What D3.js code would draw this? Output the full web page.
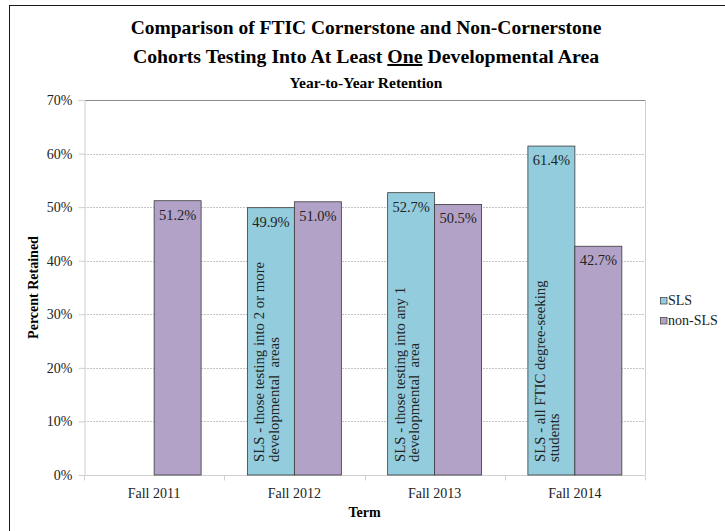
<!DOCTYPE html>
<html>
<head>
<meta charset="utf-8">
<script src="https://cdn.jsdelivr.net/npm/d3@7"></script>
<style>
  html, body { margin: 0; padding: 0; background: #fff; }
  svg text, svg tspan { font-family: "Liberation Serif", "Times New Roman", Times, serif !important; }
</style>
</head>
<body>
<svg id="chart" width="725" height="531"></svg>
<script>
const categories = ["Fall 2011", "Fall 2012", "Fall 2013", "Fall 2014"];
const seriesNames = ["SLS", "non-SLS"];
const slsValues = [null, 49.9, 52.7, 61.4];
const nonSlsValues = [51.2, 51.0, 50.5, 42.7];
const slsNotes = [
  null,
  ["SLS - those testing into 2 or more", "developmental  areas"],
  ["SLS - those testing into any 1", "developmental  area"],
  ["SLS - all FTIC degree-seeking", "students"]
];
const yTicks = [0, 10, 20, 30, 40, 50, 60, 70];
const colors = ["#93CDDD", "#B3A2C7"];

const FONT = "'Liberation Serif', 'Times New Roman', serif";
const svg = d3.select("#chart").attr("font-family", FONT);
const W = 725, H = 531;
const plot = { left: 84, right: 645, top: 100, bottom: 475 };

// outer border
svg.append("rect").attr("x", 9.5).attr("y", 5.5).attr("width", W).attr("height", H)
  .attr("fill", "none").attr("stroke", "#1a1a1a").attr("stroke-width", 1);

// titles
const cx = 366;
svg.append("text").attr("x", cx).attr("y", 34).attr("text-anchor", "middle")
  .attr("font-family", FONT).attr("font-weight", "bold").attr("font-size", 19.5)
  .text("Comparison of FTIC Cornerstone and Non-Cornerstone");
const t2 = svg.append("text").attr("x", cx).attr("y", 63).attr("text-anchor", "middle")
  .attr("font-family", FONT).attr("font-weight", "bold").attr("font-size", 19.8);
t2.append("tspan").text("Cohorts Testing Into At Least ");
t2.append("tspan").attr("text-decoration", "underline").text("One");
t2.append("tspan").text(" Developmental Area");
svg.append("text").attr("x", cx).attr("y", 88).attr("text-anchor", "middle")
  .attr("font-family", FONT).attr("font-weight", "bold").attr("font-size", 15.5)
  .text("Year-to-Year Retention");

// scales
const x0 = d3.scaleBand().domain(categories).range([plot.left, plot.right])
  .paddingInner(0.33).paddingOuter(0.165);
const x1 = d3.scaleBand().domain(seriesNames).range([0, x0.bandwidth()]);
const y = d3.scaleLinear().domain([0, 70]).range([plot.bottom, plot.top]);

// gridlines
svg.append("g").selectAll("line").data(yTicks.filter(d => d > 0 && d < 70)).join("line")
  .attr("x1", plot.left).attr("x2", plot.right)
  .attr("y1", d => Math.round(y(d)) + 0.5).attr("y2", d => Math.round(y(d)) + 0.5)
  .attr("stroke", "#c4c4c4").attr("stroke-dasharray", "2,1");
// plot border
svg.append("line").attr("x1", plot.left).attr("x2", plot.right)
  .attr("y1", y(70) + 0.5).attr("y2", y(70) + 0.5).attr("stroke", "#8c8c8c");
svg.append("line").attr("x1", plot.right + 0.5).attr("x2", plot.right + 0.5)
  .attr("y1", plot.top).attr("y2", plot.bottom).attr("stroke", "#d0d0d0");

// y axis
const yAxis = d3.axisLeft(y).tickValues(yTicks).tickFormat(d => d + "%").tickSizeOuter(0).tickSize(6).tickPadding(6);
const gy = svg.append("g").attr("transform", `translate(${plot.left + 0.5},0)`).call(yAxis)
  .attr("font-family", FONT).attr("font-size", 14);
gy.select(".domain").attr("stroke", "#d0d0d0");
gy.selectAll(".tick line").attr("stroke", "#d0d0d0");
gy.selectAll(".tick text").attr("font-family", FONT).attr("font-size", 14).attr("fill", "#222");

// x axis
const gx = svg.append("g").attr("transform", `translate(0,${plot.bottom + 0.5})`);
gx.append("line").attr("x1", plot.left).attr("x2", plot.right).attr("stroke", "#d0d0d0");
const step = x0.step();
const boundaries = categories.map((c, i) => x0(c) - x0.paddingOuter() * step).concat([plot.right]);
gx.selectAll("line.tk").data(boundaries).join("line").attr("class", "tk")
  .attr("x1", d => Math.round(d) + 0.5).attr("x2", d => Math.round(d) + 0.5)
  .attr("y1", 0).attr("y2", 5).attr("stroke", "#d0d0d0");
gx.selectAll("text").data(categories).join("text")
  .attr("x", d => x0(d) + x0.bandwidth() / 2).attr("y", 22)
  .attr("text-anchor", "middle").attr("font-family", FONT).attr("font-size", 14).attr("fill", "#222").text(d => d);

// axis titles
svg.append("text").attr("x", (plot.left + plot.right) / 2).attr("y", 517)
  .attr("text-anchor", "middle").attr("font-family", FONT).attr("font-weight", "bold").attr("font-size", 14).text("Term");
svg.append("text").attr("transform", `translate(38,${(plot.top + plot.bottom) / 2}) rotate(-90)`)
  .attr("text-anchor", "middle").attr("font-family", FONT).attr("font-weight", "bold").attr("font-size", 14).text("Percent Retained");

// bars
const rows = categories.map((c, i) => ({ cat: c, vals: [slsValues[i], nonSlsValues[i]], note: slsNotes[i] }));
const groups = svg.append("g").selectAll("g").data(rows).join("g")
  .attr("transform", d => `translate(${x0(d.cat)},0)`);

groups.each(function (d) {
  const g = d3.select(this);
  d.vals.forEach((v, si) => {
    if (v == null) return;
    const bx = x1(seriesNames[si]);
    g.append("rect").attr("x", bx).attr("y", y(v))
      .attr("width", x1.bandwidth()).attr("height", y(0) - y(v))
      .attr("fill", colors[si]).attr("stroke", "#3a3a3a").attr("stroke-width", 0.8);
    g.append("text").attr("x", bx + x1.bandwidth() / 2).attr("y", y(v) + 19)
      .attr("text-anchor", "middle").attr("font-family", FONT).attr("font-size", 14.5).attr("fill", "#222")
      .text(v.toFixed(1) + "%");
  });
  if (d.note) {
    const bx = x1("SLS");
    d.note.forEach((line, li) => {
      g.append("text")
        .attr("transform", `translate(${bx + 17 + li * 14.5},${plot.bottom - 13}) rotate(-90)`)
        .attr("font-family", FONT).attr("font-size", 14.8).attr("fill", "#222").style("white-space", "pre")
        .text(line);
    });
  }
});

// legend
const lg = svg.append("g").attr("transform", "translate(660,0)");
seriesNames.forEach((s, i) => {
  const ly = 305 + i * 20;
  lg.append("rect").attr("x", 0.5).attr("y", ly - 7.5).attr("width", 6.5).attr("height", 6.5)
    .attr("fill", colors[i]).attr("stroke", "#3a3a3a").attr("stroke-width", 0.7);
  lg.append("text").attr("x", 8).attr("y", ly).attr("font-family", FONT).attr("font-size", 14).attr("fill", "#222").text(s);
});
</script>
</body>
</html>
